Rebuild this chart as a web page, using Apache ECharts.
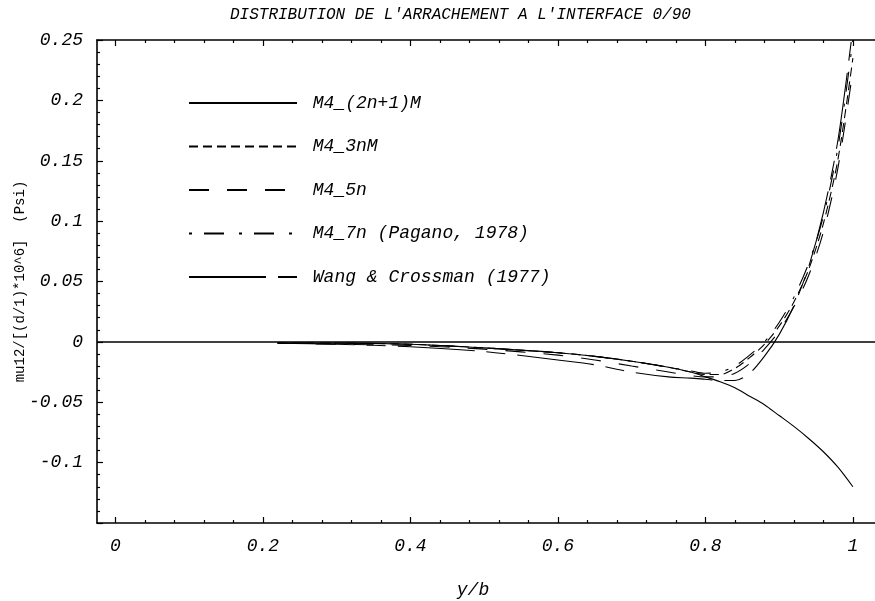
<!DOCTYPE html>
<html>
<head>
<meta charset="utf-8">
<script src="https://cdn.jsdelivr.net/npm/echarts@6/dist/echarts.min.js"></script>
<style>html,body{margin:0;padding:0;background:#fff;}#c{width:875px;height:601px;}</style>
</head>
<body>
<div id="c"></div>
<script>
// ---- data ----
const xs = [0.22, 0.3, 0.4, 0.5, 0.6, 0.65, 0.7, 0.75, 0.78, 0.8, 0.82, 0.84, 0.86, 0.88, 0.9, 0.92, 0.94, 0.96, 0.98, 1.0];
const m4_2n1M = [-0.001, -0.001, -0.002, -0.005, -0.009, -0.012, -0.016, -0.021, -0.025, -0.029, -0.033, -0.038, -0.045, -0.052, -0.061, -0.070, -0.080, -0.091, -0.104, -0.120];
const m4_3nM  = [-0.001, -0.001, -0.002, -0.005, -0.009, -0.012, -0.016, -0.021, -0.025, -0.027, -0.027, -0.022, -0.013, -0.002, 0.013, 0.033, 0.060, 0.098, 0.152, 0.235];
const m4_5n   = [-0.001, -0.002, -0.003, -0.006, -0.011, -0.015, -0.020, -0.025, -0.028, -0.029, -0.029, -0.026, -0.018, -0.006, 0.009, 0.029, 0.055, 0.091, 0.145, 0.225];
const m4_7n   = [-0.001, -0.001, -0.002, -0.005, -0.009, -0.012, -0.016, -0.021, -0.024, -0.026, -0.025, -0.020, -0.011, 0.000, 0.016, 0.037, 0.065, 0.104, 0.162, 0.250];
const wang    = [-0.001, -0.002, -0.004, -0.008, -0.015, -0.019, -0.025, -0.029, -0.030, -0.031, -0.032, -0.032, -0.026, -0.012, 0.006, 0.030, 0.062, 0.107, 0.168, 0.260];
const seriesNames = ['M4_(2n+1)M', 'M4_3nM', 'M4_5n', 'M4_7n (Pagano, 1978)', 'Wang & Crossman (1977)'];
const xMajorTicks = [0, 0.2, 0.4, 0.6, 0.8, 1.0];
const xTickLabels = ['0', '0.2', '0.4', '0.6', '0.8', '1'];
const xMinorTicks = [0.04, 0.08, 0.12, 0.16, 0.24, 0.28, 0.32, 0.36, 0.44, 0.48, 0.52, 0.56, 0.64, 0.68, 0.72, 0.76, 0.84, 0.88, 0.92, 0.96];
const yTickLabels = ['-0.1', '-0.05', '0', '0.05', '0.1', '0.15', '0.2', '0.25'];
const titleText = "DISTRIBUTION DE L'ARRACHEMENT A L'INTERFACE 0/90";
const xName = 'y/b';
const yName = 'mu12/[(d/1)*10^6]  (Psi)';

// ---- styling ----
const FONT = 'Liberation Mono';
const dashes = ['solid', [9, 5], [20, 18], [3, 12, 20, 15], [77, 12, 19, 12]];
const XMIN = -0.025, XMAX = 1.03;

function pairs(vals) { return xs.map((x, i) => [x, vals[i]]); }
const allVals = [m4_2n1M, m4_3nM, m4_5n, m4_7n, wang];

const series = allVals.map((v, i) => ({
  name: seriesNames[i],
  type: 'line',
  data: pairs(v),
  smooth: 0.3,
  symbol: 'none',
  clip: true,
  lineStyle: { color: '#000', width: 1.1, type: dashes[i] },
  itemStyle: { color: '#000' },
  z: 3
}));
series[0].markLine = {
  silent: true, symbol: 'none', label: { show: false },
  lineStyle: { color: '#000', type: 'solid', width: 1.6 },
  data: [{ yAxis: 0 }]
};

function tickAxis(pos, values, len, showLabel, showLine) {
  return {
    type: 'value', position: pos, min: XMIN, max: XMAX,
    axisLine: { show: showLine, onZero: false, lineStyle: { color: '#000', width: 1.6 } },
    axisTick: { show: true, inside: true, length: len, customValues: values, lineStyle: { color: '#000', width: 1.2 } },
    axisLabel: showLabel ? {
      show: true, customValues: xMajorTicks, margin: 14,
      formatter: v => xTickLabels[xMajorTicks.indexOf(Math.round(v * 100) / 100)] ?? '',
      fontFamily: FONT, fontStyle: 'italic', fontSize: 18, color: '#000'
    } : { show: false },
    splitLine: { show: false }
  };
}

const xAxes = [
  Object.assign(tickAxis('bottom', xMajorTicks, 6, true, true), {
    name: xName, nameLocation: 'middle', nameGap: 58, nameMoveOverlap: false,
    nameTextStyle: { fontFamily: FONT, fontStyle: 'italic', fontSize: 18, color: '#000', padding: [0, 26, 0, 0] }
  }),
  tickAxis('bottom', xMinorTicks, 3, false, false),
  tickAxis('top', xMajorTicks, 6, false, true),
  tickAxis('top', xMinorTicks, 3, false, false)
];

const option = {
  animation: false,
  backgroundColor: '#fff',
  title: {
    text: titleText, left: 225, top: 2,
    textStyle: { fontFamily: FONT, fontStyle: 'italic', fontWeight: 'normal', fontSize: 16, color: '#000' }
  },
  legend: {
    orient: 'vertical', left: 188, top: 94, padding: 0,
    itemWidth: 108, itemHeight: 16, itemGap: 25.5,
    data: seriesNames,
    formatter: n => ' ' + n,
    itemStyle: { opacity: 0, color: 'rgba(0,0,0,0)', borderWidth: 0 },
    textStyle: { fontFamily: FONT, fontStyle: 'italic', fontSize: 18, lineHeight: 16, color: '#000' },
    selectedMode: false
  },
  grid: { left: 97, right: 0, top: 40, bottom: 78, containLabel: false, outerBoundsMode: 'none' },
  xAxis: xAxes,
  yAxis: {
    type: 'value', min: -0.15, max: 0.25, interval: 0.05,
    name: yName, nameLocation: 'middle', nameGap: 70, nameRotate: 90, nameMoveOverlap: false,
    nameTextStyle: { fontFamily: FONT, fontSize: 14, color: '#000' },
    axisLine: { show: true, onZero: false, lineStyle: { color: '#000', width: 1.6 } },
    axisTick: { inside: true, length: 6, lineStyle: { color: '#000', width: 1.2 } },
    minorTick: { show: true, splitNumber: 5, length: 3, lineStyle: { color: '#000', width: 1.2 } },
    axisLabel: {
      margin: 14, fontFamily: FONT, fontStyle: 'italic', fontSize: 18, color: '#000',
      formatter: v => { const s = String(Math.round(v * 100) / 100); return yTickLabels.includes(s) ? s : ''; }
    },
    splitLine: { show: false }
  },
  series: series
};

const chart = echarts.init(document.getElementById('c'), null, { renderer: 'canvas' });
chart.setOption(option);
</script>
</body>
</html>
